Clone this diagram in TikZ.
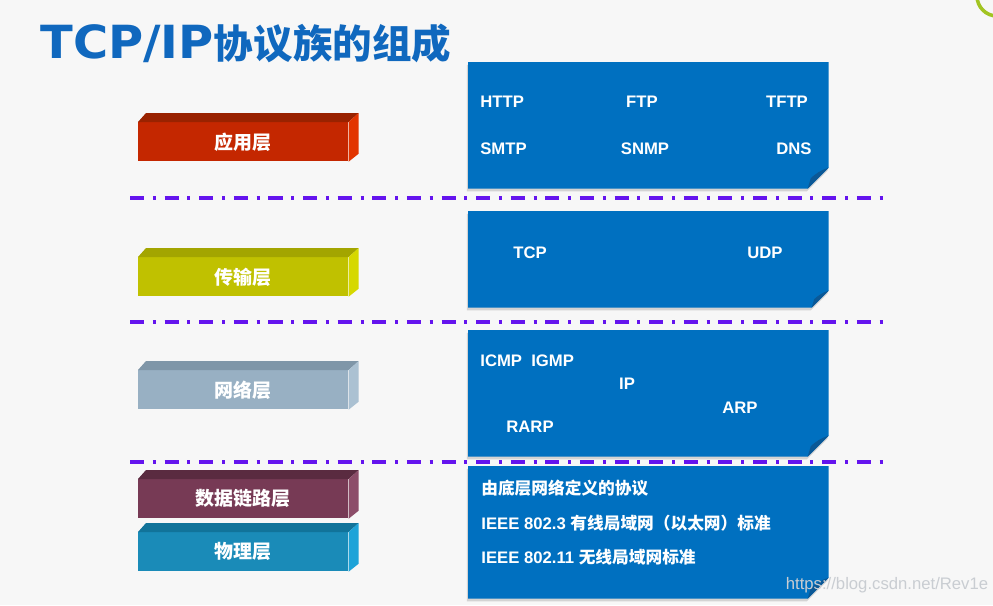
\documentclass[tikz,border=0pt]{standalone}
\usepackage{graphicx}
\usepackage{fontspec}
\setmainfont{Liberation Sans}
\newfontfamily\cjk{Noto Sans CJK SC}
\newfontfamily\titlelat{DejaVu Sans}
\usetikzlibrary{shadows}
\definecolor{bg}{HTML}{F7F7F7}
\definecolor{titleblue}{HTML}{1068BE}
\definecolor{panelblue}{HTML}{0070C0}
\definecolor{foldblue}{HTML}{0B5896}
\definecolor{sepline}{HTML}{6414EE}
\definecolor{arcgreen}{HTML}{A2C422}
\definecolor{wm}{HTML}{C9CDD2}
\definecolor{appf}{HTML}{C42700}
\definecolor{appt}{HTML}{992200}
\definecolor{apps}{HTML}{E23400}
\definecolor{trnf}{HTML}{C0C100}
\definecolor{trnt}{HTML}{A3A500}
\definecolor{trns}{HTML}{D6D800}
\definecolor{netf}{HTML}{98B0C3}
\definecolor{nett}{HTML}{7F96A8}
\definecolor{nets}{HTML}{ABC1D2}
\definecolor{lnkf}{HTML}{773A55}
\definecolor{lnkt}{HTML}{5A2B40}
\definecolor{lnks}{HTML}{8C4D69}
\definecolor{phyf}{HTML}{1A8BB8}
\definecolor{phyt}{HTML}{11739A}
\definecolor{phys}{HTML}{1EA3D8}
\begin{document}
\begin{tikzpicture}[x=0.02cm,y=-0.02cm,
layer/.style={anchor=north west,minimum width=4.2cm,minimum height=0.78cm,inner sep=0pt,
  text=white,font={\cjk\bfseries\fontsize{10.8}{12}\selectfont}},
panel/.style={anchor=north west,minimum width=7.2cm,inner sep=0pt},
proto/.style={text=white,inner sep=0pt,font={\bfseries\fontsize{9.5}{11}\selectfont}},
sep/.style={draw=sepline,line width=2pt,dash pattern=on 8pt off 5pt on 1.7pt off 5pt}]
\useasboundingbox (0,0) rectangle (993,605);
\fill[bg] (0,0) rectangle (993,605);
\begin{scope}
\clip (0,0) rectangle (993,605);
\draw[arcgreen,line width=2pt] (997,-4) circle[radius=20];
\end{scope}
\node[anchor=base west,inner sep=0pt,text=titleblue] (title) at (40,58)
  {\titlelat\bfseries\fontsize{26}{30}\selectfont\scalebox{1.05}[1]{TCP/IP}\cjk\bfseries\fontsize{22.5}{26}\selectfont 协议族的组成};
\node[layer,fill=appf] (app) at (138,122) {应用层};
\node[layer,fill=trnf] (trn) at (138,257) {传输层};
\node[layer,fill=netf] (net) at (138,370) {网络层};
\node[layer,fill=lnkf] (lnk) at (138,479) {数据链路层};
\node[layer,fill=phyf] (phy) at (138,532) {物理层};
\foreach \n in {app,trn,net,lnk,phy}{
  \fill[\n t] (\n.north west) -- ++(8,-9) -- ([shift={(10,-9)}]\n.north east) -- (\n.north east) -- cycle;
  \fill[\n s] (\n.north east) -- ++(10,-9) -- ([shift={(10,-8)}]\n.south east) -- (\n.south east) -- cycle;
}
\node[panel,minimum height=2.52cm] (p1) at (468,62) {};
\node[panel,minimum height=1.92cm] (p2) at (468,211) {};
\node[panel,minimum height=2.52cm] (p3) at (468,330) {};
\node[panel,minimum height=2.64cm] (p4) at (468,466) {};
\foreach \p/\c in {p1/21,p2/17,p3/21,p4/21}{
  \fill[panelblue,drop shadow={opacity=0.3,shadow xshift=-0.6pt,shadow yshift=-1.6pt}]
    (\p.north west) -- (\p.north east) -- ([shift={(0,-\c)}]\p.south east)
    -- ([shift={(-\c,0)}]\p.south east) -- (\p.south west) -- cycle;
  \fill[foldblue] ([shift={(0,-\c)}]\p.south east) to[bend right=12] ([shift={(-0.85*\c,-0.5*\c)}]\p.south east)
    -- ([shift={(-\c,0)}]\p.south east) -- cycle;
}
\node[proto,anchor=west] (http) at (480,102) {HTTP};
\node[proto] (ftp) at (642,102) {FTP};
\node[proto] (tftp) at (787,102) {TFTP};
\node[proto,anchor=west] (smtp) at (480,149) {SMTP};
\node[proto] (snmp) at (645,149) {SNMP};
\node[proto] (dns) at (794,149) {DNS};
\node[proto] (tcp) at (530,253) {TCP};
\node[proto] (udp) at (765,253) {UDP};
\node[proto,anchor=west] (icmp) at (480,361) {ICMP\ \ IGMP};
\node[proto] (ip) at (627,384) {IP};
\node[proto] (arp) at (740,408) {ARP};
\node[proto] (rarp) at (530,427) {RARP};
\node[proto,anchor=west] (lan) at (481,488) {\cjk\bfseries 由底层网络定义的协议};
\node[proto,anchor=west] (eth) at (481,523) {IEEE 802.3 {\cjk\bfseries 有线局域网（以太网）标准}};
\node[proto,anchor=west] (wifi) at (481,557) {IEEE 802.11 {\cjk\bfseries 无线局域网标准}};
\foreach \i/\y in {1/198,2/322,3/462}{
  \coordinate (s\i a) at (130,\y);
  \coordinate (s\i b) at (885,\y);
  \draw[sep] (s\i a) -- (s\i b);
}
\node[text=wm,inner sep=0pt,font=\fontsize{9.5}{11}\selectfont] (wmark) at (887,585) {https://blog.csdn.net/Rev1e};
\end{tikzpicture}
\end{document}
